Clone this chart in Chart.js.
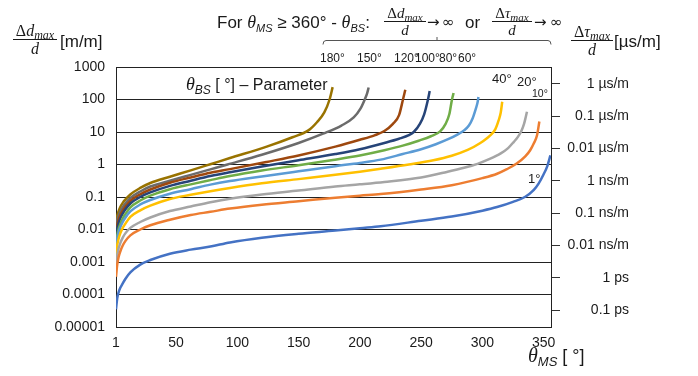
<!DOCTYPE html>
<html>
<head>
<meta charset="utf-8">
<script src="https://cdn.jsdelivr.net/npm/chart.js@4"></script>
<style>
  html, body { margin: 0; padding: 0; background: #fff; }
  #wrap { width: 698px; height: 376px; }
</style>
</head>
<body>
<div id="wrap"><canvas id="myChart" width="698" height="376"></canvas></div>
<script>
// θ_BS parameter of each curve and Excel series colours
const bsAngles = [1, 10, 20, 40, 60, 80, 100, 120, 150, 180];
const bsColors = ["#4472C4", "#ED7D31", "#A5A5A5", "#FFC000", "#5B9BD5",
                  "#70AD47", "#264478", "#9E480E", "#6B6B6B", "#997300"];

// x values (θ_MS in degrees) and Δd_max/d values
const ms1 = [1, 2, 3, 4.5, 6.5, 8.6, 12.7, 20.8, 29, 45, 62, 78, 94, 120, 150, 180, 200, 217, 250, 275, 300, 312, 325, 335, 342, 346, 350, 353, 355.5];
const dd1 = [3.5e-5, 7.6e-5, 1.12e-4, 1.6e-4, 2.2e-4, 3.0e-4, 4.8e-4, 8.3e-4, 1.15e-3, 1.8e-3, 2.4e-3, 3.0e-3, 4.0e-3, 5.6e-3, 7.4e-3, 9.3e-3, 0.011, 0.0126, 0.0186, 0.025, 0.038, 0.049, 0.071, 0.102, 0.166, 0.263, 0.5, 0.89, 1.9];

const ms10 = [1, 2, 3, 4.5, 6.5, 8.6, 12.7, 20.8, 29, 45, 62, 78, 94, 120, 150, 180, 200, 217, 250, 275, 300, 312, 320, 328, 335, 339, 342, 344.6, 346.5];
const dd10 = [3.5e-4, 8.3e-4, 1.35e-3, 2.1e-3, 3.2e-3, 4.4e-3, 6.6e-3, 0.01, 0.0135, 0.02, 0.028, 0.035, 0.044, 0.058, 0.074, 0.095, 0.11, 0.123, 0.17, 0.23, 0.38, 0.52, 0.72, 1.07, 1.78, 2.75, 4.5, 7.9, 21];

const ms20 = [1, 2, 3, 4.5, 6.5, 8.6, 12.7, 20.8, 29, 45, 62, 78, 94, 120, 150, 180, 200, 220, 250, 271, 285, 296, 306, 315, 321, 325.5, 329, 332, 334, 335.5, 336.4];
const dd20 = [7.1e-4, 1.6e-3, 2.5e-3, 3.8e-3, 5.6e-3, 7.6e-3, 0.0112, 0.017, 0.0234, 0.037, 0.051, 0.069, 0.089, 0.12, 0.158, 0.21, 0.245, 0.29, 0.4, 0.59, 0.79, 1.05, 1.48, 2.2, 3.2, 4.9, 7.1, 11.2, 17.8, 30, 42];

const ms40 = [1, 2, 3, 4.5, 6.5, 8.6, 12.7, 20.8, 29, 45, 62, 78, 94, 120, 150, 180, 200, 217, 240, 260, 275, 288, 298, 306, 310.5, 313.3, 315, 316.2];
const dd40 = [1.58e-3, 3.3e-3, 5.0e-3, 7.6e-3, 0.0112, 0.0151, 0.0245, 0.039, 0.054, 0.087, 0.117, 0.151, 0.19, 0.263, 0.355, 0.48, 0.6, 0.74, 1.0, 1.35, 1.86, 2.8, 4.5, 7.6, 12, 23, 40, 85];

const ms60 = [1, 2, 3, 4.5, 6.5, 8.6, 12.7, 20.8, 29, 45, 62, 78, 94, 120, 150, 180, 200, 217, 235, 250, 262, 272, 280, 285, 289, 292, 294.5, 296, 296.8];
const dd60 = [2.6e-3, 5.4e-3, 7.9e-3, 0.0117, 0.017, 0.023, 0.036, 0.059, 0.081, 0.126, 0.174, 0.24, 0.31, 0.43, 0.62, 0.89, 1.12, 1.41, 2.1, 2.95, 4.2, 6.0, 8.5, 11.2, 15.8, 26, 50, 79, 120];

const ms80 = [1, 2, 3, 4.5, 6.5, 8.6, 12.7, 20.8, 29, 45, 62, 78, 94, 120, 150, 178, 200, 220, 235, 248, 258, 265.5, 270, 273, 275.2, 276.5];
const dd80 = [3.2e-3, 6.6e-3, 0.01, 0.0148, 0.022, 0.0295, 0.048, 0.078, 0.11, 0.174, 0.245, 0.33, 0.44, 0.65, 0.95, 1.38, 1.9, 2.75, 3.8, 5.4, 7.4, 10.5, 17.8, 35, 100, 158];

const ms100 = [1, 2, 3, 4.5, 6.5, 8.6, 12.7, 20.8, 29, 45, 62, 78, 94, 120, 150, 180, 200, 220, 232, 240, 244, 249, 252.5, 255.6, 257];
const dd100 = [5.8e-3, 0.0107, 0.0151, 0.022, 0.031, 0.041, 0.063, 0.1, 0.138, 0.22, 0.316, 0.44, 0.58, 0.87, 1.35, 2.1, 2.95, 4.6, 6.2, 8.0, 10, 17.8, 35, 100, 182];

const ms120 = [1, 2, 3, 4.5, 6.5, 8.6, 12.7, 20.8, 29, 45, 62, 78, 94, 124, 150, 180, 200, 212, 220, 227, 232, 235.2, 237.1];
const dd120 = [7.6e-3, 0.0138, 0.0195, 0.0275, 0.038, 0.05, 0.076, 0.12, 0.17, 0.275, 0.4, 0.56, 0.72, 1.2, 1.9, 3.55, 5.75, 7.9, 10.7, 17.8, 33, 100, 200];

const ms150 = [1, 2, 3, 4.5, 6.5, 8.6, 12.7, 20.8, 29, 45, 62, 78, 92, 120, 150, 170, 185, 195, 200.5, 204, 206, 207.2];
const dd150 = [0.011, 0.019, 0.0263, 0.036, 0.049, 0.063, 0.093, 0.148, 0.21, 0.316, 0.48, 0.71, 1.0, 2.0, 4.6, 8.9, 15.8, 28, 52, 100, 158, 234];

const ms180 = [1, 2, 3, 4.5, 6.5, 8.6, 12.7, 20.8, 29, 45, 62, 78, 94, 124, 145, 158, 165, 171, 175.3, 177.8];
const dd180 = [0.0151, 0.0263, 0.0355, 0.049, 0.066, 0.083, 0.12, 0.19, 0.27, 0.42, 0.66, 1.02, 1.58, 3.55, 6.9, 11.2, 20, 40, 100, 240];

const msSeries = [ms1, ms10, ms20, ms40, ms60, ms80, ms100, ms120, ms150, ms180];
const ddSeries = [dd1, dd10, dd20, dd40, dd60, dd80, dd100, dd120, dd150, dd180];

// axis ticks
const xTicks = [1, 50, 100, 150, 200, 250, 300, 350];
const yTicks = [0.00001, 0.0001, 0.001, 0.01, 0.1, 1, 10, 100, 1000];
const yTickLabels = ["0.00001", "0.0001", "0.001", "0.01", "0.1", "1", "10", "100", "1000"];
// right axis in µs/m (Δτ/d = Δd/d / c, c = 300 m/µs)
const C_M_PER_US = 300;
const y2Ticks = [1e-7, 1e-6, 1e-5, 1e-4, 1e-3, 0.01, 0.1, 1];
const y2TickLabels = ["0.1 ps", "1 ps", "0.01 ns/m", "0.1 ns/m", "1 ns/m", "0.01 µs/m", "0.1 µs/m", "1 µs/m"];

const SANS = '"Liberation Sans", Arial, sans-serif';
const SERIF = '"Liberation Serif", "Times New Roman", serif';
const SYM = '"DejaVu Sans", sans-serif';
const INK = "#1a1a1a";

function runWidth(ctx, parts) {
  let w = 0;
  for (const p of parts) { ctx.font = p[1]; w += ctx.measureText(p[0]).width; }
  return w;
}
function runText(ctx, x, y, parts) {
  let cx = x;
  for (const p of parts) {
    ctx.font = p[1];
    ctx.fillText(p[0], cx, y + (p[2] || 0));
    cx += ctx.measureText(p[0]).width;
  }
  return cx;
}
function fraction(ctx, cx, lineY, num, size, lineW) {
  const nw = runWidth(ctx, num);
  runText(ctx, cx - nw / 2, lineY - 3, num);
  ctx.font = "italic " + size + "px " + SERIF;
  const dw = ctx.measureText("d").width;
  ctx.fillText("d", cx - dw / 2, lineY + size - 1);
  ctx.beginPath();
  ctx.moveTo(cx - lineW / 2, lineY + 0.5);
  ctx.lineTo(cx + lineW / 2, lineY + 0.5);
  ctx.lineWidth = 1;
  ctx.strokeStyle = INK;
  ctx.stroke();
}
function deltaNum(sym, size) {
  return [
    ["Δ", size + "px " + SERIF],
    [sym, "italic " + size + "px " + SERIF],
    ["max", "italic " + Math.round(size * 0.75) + "px " + SERIF, 3],
  ];
}

const annotations = {
  id: "annotations",
  afterDraw(chart) {
    const ctx = chart.ctx;
    ctx.save();
    ctx.fillStyle = INK;
    ctx.textBaseline = "alphabetic";
    ctx.textAlign = "left";

    // left axis title
    fraction(ctx, 35, 39, deltaNum("d", 16), 16, 44);
    ctx.font = "17px " + SANS;
    ctx.fillText("[m/m]", 60, 47);

    // right axis title
    fraction(ctx, 592, 40, deltaNum("τ", 16), 16, 42);
    ctx.font = "17px " + SANS;
    ctx.fillText("[µs/m]", 614, 47);

    // heading formula
    runText(ctx, 217, 28, [
      ["For ", "17px " + SANS],
      ["θ", "italic 18px " + SERIF],
      ["MS", "italic 11px " + SANS, 4],
      [" ≥ 360° - ", "17px " + SANS],
      ["θ", "italic 18px " + SERIF],
      ["BS", "italic 11px " + SANS, 4],
      [":", "17px " + SANS],
    ]);
    fraction(ctx, 405, 21, deltaNum("d", 15), 15, 42);
    ctx.font = "15px " + SYM;
    ctx.fillText("→", 427, 27);
    ctx.fillText("∞", 442, 27);
    ctx.font = "17px " + SANS;
    ctx.fillText("or", 465, 28);
    fraction(ctx, 512, 21, deltaNum("τ", 15), 15, 40);
    ctx.font = "15px " + SYM;
    ctx.fillText("→", 534, 27);
    ctx.fillText("∞", 550, 27);

    // bracket over the asymptote labels
    ctx.beginPath();
    ctx.strokeStyle = "#555";
    ctx.lineWidth = 1;
    ctx.moveTo(323, 44.5);
    ctx.quadraticCurveTo(323, 40.5, 326, 40.5);
    ctx.lineTo(548, 40.5);
    ctx.quadraticCurveTo(551, 40.5, 551, 44.5);
    ctx.moveTo(437, 40.5);
    ctx.lineTo(437, 37);
    ctx.stroke();

    ctx.font = "12px " + SANS;
    [["180°", 320], ["150°", 357], ["120°", 394], ["100°", 415], ["80°", 439], ["60°", 458]]
      .forEach(([t, x]) => ctx.fillText(t, x, 62));

    // curve labels
    ctx.font = "13px " + SANS;
    ctx.fillText("40°", 492, 83);
    ctx.fillText("20°", 517, 86);
    ctx.fillText("1°", 528, 183);
    ctx.font = "10.5px " + SANS;
    ctx.fillText("10°", 532, 97);

    runText(ctx, 186, 90, [
      ["θ", "italic 18px " + SERIF],
      ["BS", "italic 12px " + SANS, 4],
      [" [ °] – Parameter", "16px " + SANS],
    ]);

    // x axis title
    runText(ctx, 528, 362, [
      ["θ", "italic 20px " + SERIF],
      ["MS", "italic 13px " + SANS, 4],
      [" [ °]", "18px " + SANS],
    ]);
    ctx.restore();
  },
};

function initChart(target) {
  const datasets = bsAngles.map((bs, i) => ({
    label: bs + "°",
    data: msSeries[i].map((x, j) => ({ x: x, y: ddSeries[i][j] })),
    borderColor: bsColors[i],
    backgroundColor: bsColors[i],
    borderWidth: 2.5,
    pointRadius: 0,
    cubicInterpolationMode: "monotone",
    yAxisID: "y",
  }));

  const tickFont = { family: SANS, size: 14 };

  const config = {
    type: "line",
    data: { datasets: datasets },
    options: {
      responsive: false,
      devicePixelRatio: 1,
      animation: false,
      layout: { padding: { top: 67, left: 0, right: 69, bottom: 0 } },
      plugins: { legend: { display: false }, tooltip: { enabled: false } },
      scales: {
        x: {
          type: "linear",
          min: 1,
          max: 356,
          afterBuildTicks: (s) => { s.ticks = xTicks.map((v) => ({ value: v })); },
          afterFit: (s) => { s.height = 49; },
          grid: { display: false },
          border: { display: true, color: "#222", width: 1 },
          ticks: { font: tickFont, color: INK, padding: 0, maxRotation: 0 },
        },
        y: {
          type: "logarithmic",
          position: "left",
          min: 0.00001,
          max: 1000,
          afterBuildTicks: (s) => { s.ticks = yTicks.map((v) => ({ value: v })); },
          afterFit: (s) => { s.width = 116; },
          grid: { color: "#222", lineWidth: 1, drawTicks: false },
          border: { display: true, color: "#222", width: 1 },
          ticks: {
            font: tickFont,
            color: INK,
            padding: 11,
            callback: (v) => yTickLabels[yTicks.indexOf(v)],
          },
        },
        y2: {
          type: "logarithmic",
          position: "right",
          min: 0.00001 / C_M_PER_US,
          max: 1000 / C_M_PER_US,
          afterBuildTicks: (s) => { s.ticks = y2Ticks.map((v) => ({ value: v })); },
          afterFit: (s) => { s.width = 78; },
          grid: { drawOnChartArea: false, drawTicks: true, tickLength: 9, color: "#333", tickColor: "#333" },
          border: { display: true, color: "#222", width: 1 },
          ticks: {
            font: tickFont,
            color: INK,
            padding: 4,
            crossAlign: "far",
            callback: (v) => y2TickLabels[y2Ticks.indexOf(v)],
          },
        },
      },
    },
    plugins: [annotations],
  };

  return new Chart(target, config);
}

document.addEventListener("DOMContentLoaded", () => {
  initChart(document.querySelector("#myChart"));
});
</script>
</body>
</html>
